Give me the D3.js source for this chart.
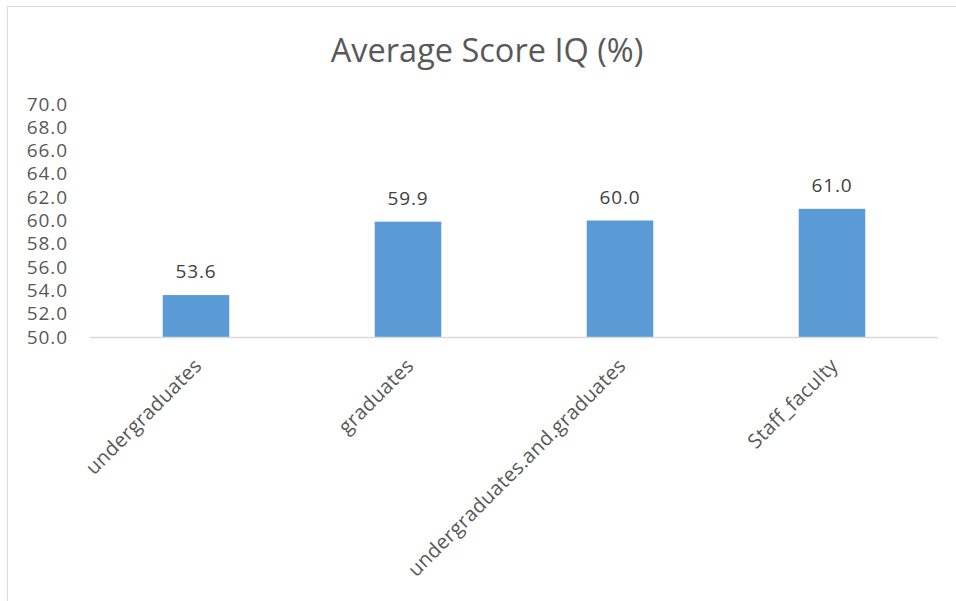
<!DOCTYPE html>
<html>
<head>
<meta charset="utf-8">
<script src="https://cdn.jsdelivr.net/npm/d3@7"></script>
<style>
  body { margin: 0; background: #fff; }
  svg { display: block; font-family: "Open Sans", sans-serif; }
</style>
</head>
<body>
<div id="chart"></div>
<script>
"use strict";

// data
const categories = ['undergraduates', 'graduates', 'undergraduates.and.graduates', 'Staff_faculty'];
const scores = [53.6, 59.9, 60.0, 61.0];
const yTicks = [50, 52, 54, 56, 58, 60, 62, 64, 66, 68, 70];
const chartTitle = 'Average Score IQ (%)';

const width = 956;
const height = 601;

const svg = d3.select('#chart').append('svg')
  .attr('width', width)
  .attr('height', height);

// chart frame (cropped at right and bottom)
svg.append('rect')
  .attr('x', 7.5).attr('y', 6.5)
  .attr('width', width + 20).attr('height', height + 20)
  .attr('fill', '#fff')
  .attr('stroke', '#d9d9d9');

// title
svg.append('text')
  .attr('x', 487).attr('y', 62)
  .attr('text-anchor', 'middle')
  .attr('font-size', 32.5)
  .attr('fill', '#595959')
  .text(chartTitle);

// scales
let x = d3.scaleBand()
  .domain(categories)
  .range([90, 938])
  .paddingInner(0.686)
  .paddingOuter(0.343);

let y = d3.scaleLinear().domain([50, 70]).range([337, 104]);

// y axis labels (no line, no ticks)
let yAxis = d3.axisLeft(y)
  .tickValues(yTicks)
  .tickFormat(d3.format('.1f'))
  .tickSize(0)
  .tickPadding(0);

let gy = svg.append('g').attr('transform', 'translate(68,0)').call(yAxis);
gy.select('.domain').remove();
gy.selectAll('text')
  .attr('font-family', '"Open Sans", sans-serif')
  .attr('font-size', 19)
  .attr('letter-spacing', 0.9)
  .attr('fill', '#595959');

// bars
svg.append('g').selectAll('rect')
  .data(scores)
  .join('rect')
  .attr('x', (d, i) => x(categories[i]))
  .attr('y', (d) => y(d))
  .attr('width', x.bandwidth())
  .attr('height', (d) => y(50) - y(d))
  .attr('fill', '#5b9bd5');

// value labels
svg.append('g').selectAll('text')
  .data(scores)
  .join('text')
  .attr('x', (d, i) => x(categories[i]) + x.bandwidth() / 2)
  .attr('y', (d) => y(d) - 17)
  .attr('text-anchor', 'middle')
  .attr('font-size', 19)
  .attr('letter-spacing', 0.9)
  .attr('fill', '#404040')
  .text((d) => d.toFixed(1));

// x axis line
svg.append('line')
  .attr('x1', 90).attr('x2', 938)
  .attr('y1', 337.5).attr('y2', 337.5)
  .attr('stroke', '#d9d9d9')
  .attr('stroke-width', 1.5);

// rotated category labels
svg.append('g').selectAll('text')
  .data(categories)
  .join('text')
  .attr('transform', (d) => {
    let cx = x(d) + x.bandwidth() / 2 + 2;
    return 'translate(' + cx + ',362) rotate(-45)';
  })
  .attr('text-anchor', 'end')
  .attr('dy', '0.35em')
  .attr('font-size', 20)
  .attr('letter-spacing', 0.3)
  .attr('fill', '#595959')
  .text((d) => d);
</script>
</body>
</html>
